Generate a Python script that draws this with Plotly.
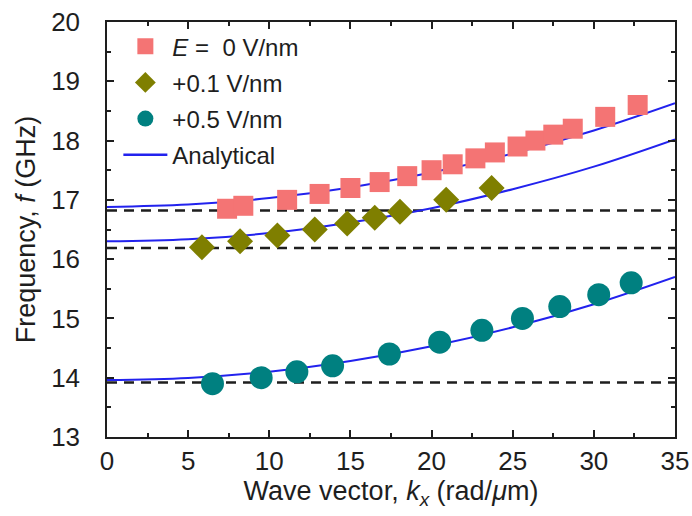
import plotly.graph_objects as go

# Measured dispersion points, frequency f (GHz) vs wave vector kx (rad/um)
k_e0 = [7.4, 8.4, 11.1, 13.1, 15.0, 16.8, 18.5, 20.0, 21.3, 22.7, 23.9, 25.3, 26.4, 27.5, 28.7, 30.7, 32.7]
f_e0 = [16.85, 16.9, 17.0, 17.1, 17.2, 17.3, 17.4, 17.5, 17.6, 17.7, 17.8, 17.9, 18.0, 18.1, 18.2, 18.4, 18.6]

k_e01 = [5.85, 8.2, 10.5, 12.8, 14.8, 16.5, 18.05, 20.9, 23.7]
f_e01 = [16.2, 16.3, 16.4, 16.5, 16.6, 16.7, 16.8, 17.0, 17.2]

k_e05 = [6.5, 9.5, 11.7, 13.9, 17.4, 20.5, 23.1, 25.6, 27.9, 30.3, 32.3]
f_e05 = [13.9, 14.0, 14.1, 14.2, 14.4, 14.6, 14.8, 15.0, 15.2, 15.4, 15.6]

# Analytical dispersion curves sampled along kx
k_fit = [0, 5, 10, 15, 20, 25, 30, 35]
f_fit_e0 = [16.88, 16.92, 17.03, 17.21, 17.46, 17.78, 18.17, 18.63]
f_fit_e01 = [16.30, 16.335, 16.44, 16.62, 16.86, 17.18, 17.56, 18.02]
f_fit_e05 = [13.96, 13.995, 14.10, 14.28, 14.53, 14.85, 15.24, 15.70]

# Zero-wavevector (k = 0) reference frequencies
f_ref = [16.82, 16.19, 13.92]
k_range = [0, 35]

x_ticks = [0, 5, 10, 15, 20, 25, 30, 35]
y_ticks = [13, 14, 15, 16, 17, 18, 19, 20]

FONT = "Liberation Sans, Arial, sans-serif"
INK = "#1e1e1e"
BLUE = "#2222ee"

fig = go.Figure()

for fr in f_ref:
    fig.add_trace(go.Scatter(
        x=k_range, y=[fr, fr], mode="lines",
        line=dict(color=INK, width=2.5, dash="10px,7px"),
        showlegend=False, hoverinfo="skip"))

for kk, ff in [(k_fit, f_fit_e0), (k_fit, f_fit_e01), (k_fit, f_fit_e05)]:
    fig.add_trace(go.Scatter(
        x=kk, y=ff, mode="lines", line=dict(color=BLUE, width=2, shape="spline"),
        showlegend=False, hoverinfo="skip"))

fig.add_trace(go.Scatter(
    x=k_e0, y=f_e0, mode="markers", name="<i>E</i> =  0 V/nm",
    marker=dict(symbol="square", size=20, color="#f47474"), legendgroup="a"))
fig.add_trace(go.Scatter(
    x=k_e01, y=f_e01, mode="markers", name="+0.1 V/nm",
    marker=dict(symbol="diamond", size=20, color="#7f7f00"), legendgroup="b"))
fig.add_trace(go.Scatter(
    x=k_e05, y=f_e05, mode="markers", name="+0.5 V/nm",
    marker=dict(symbol="circle", size=23, color="#008080"), legendgroup="c"))
fig.add_trace(go.Scatter(
    x=[None], y=[None], mode="lines", name="Analytical",
    line=dict(color=BLUE, width=2.5), legendgroup="d"))

axis_common = dict(
    showline=True, linecolor=INK, linewidth=1.5, mirror="allticks",
    ticks="inside", ticklen=7, tickwidth=1.5, tickcolor=INK,
    showgrid=False, zeroline=False, automargin=False,
    tickfont=dict(family=FONT, size=26, color=INK),
)

fig.update_xaxes(
    range=k_range, tickvals=x_ticks, ticklabelstandoff=0,
    minor=dict(dtick=2.5, ticks="inside", ticklen=4, tickwidth=1.5, tickcolor=INK),
    title=dict(text="Wave vector, <i>k<sub>x</sub></i> (rad/<i>μ</i>m)",
               font=dict(family=FONT, size=27, color=INK), standoff=2),
    **axis_common)
fig.update_yaxes(
    range=[13, 20], tickvals=y_ticks, ticklabelstandoff=20,
    minor=dict(dtick=0.5, ticks="inside", ticklen=4, tickwidth=1.5, tickcolor=INK),
    title=dict(text="Frequency, <i>f</i> (GHz)",
               font=dict(family=FONT, size=27, color=INK), standoff=8),
    **axis_common)

fig.update_layout(
    width=692, height=516,
    margin=dict(l=107, r=17, t=22, b=79),
    paper_bgcolor="white", plot_bgcolor="white",
    legend=dict(
        x=0.02, y=0.995, xanchor="left", yanchor="top",
        font=dict(family=FONT, size=24, color=INK),
        bgcolor="rgba(0,0,0,0)", tracegroupgap=2, itemwidth=44,
    ),
)

fig.write_html("out.html")
